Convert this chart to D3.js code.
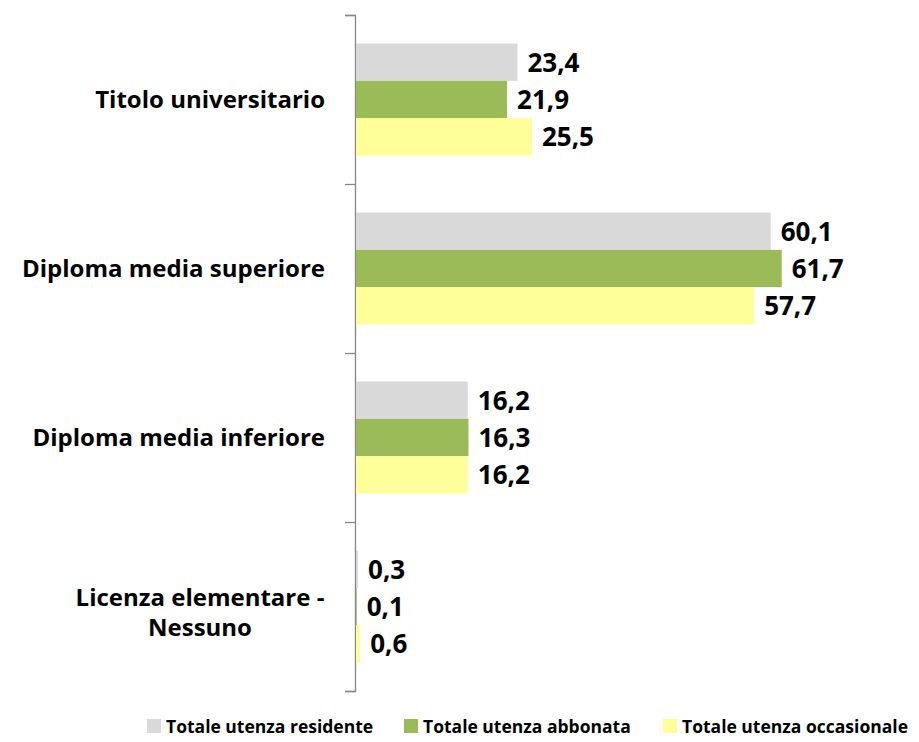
<!DOCTYPE html>
<html>
<head>
<meta charset="utf-8">
<script src="https://cdn.jsdelivr.net/npm/d3@7"></script>
<style>
  body { margin: 0; background: #fff; }
  text { font-family: "Open Sans", sans-serif; font-weight: 700; fill: #000; }
</style>
</head>
<body>
<div id="chart"></div>
<script>
var width = 919,
    height = 742;

// data
var categories = ["Titolo universitario", "Diploma media superiore", "Diploma media inferiore", "Licenza elementare - Nessuno"];
var series = ["Totale utenza residente", "Totale utenza abbonata", "Totale utenza occasionale"];
var residente = [23.4, 60.1, 16.2, 0.3];
var abbonata = [21.9, 61.7, 16.3, 0.1];
var occasionale = [25.5, 57.7, 16.2, 0.6];
var colors = ["#d9d9d9", "#9bbb59", "#ffff99"];

var values = [residente, abbonata, occasionale];

var rows = categories.map(function(c, i) {
  return { name: c, vals: series.map(function(s, j) { return { key: s, value: values[j][i] }; }) };
});

var it = d3.formatLocale({ decimal: ",", thousands: ".", grouping: [3], currency: ["", "€"] });
var fmt = it.format(".1f");

var svg = d3.select("#chart")
  .append("svg")
  .attr("width", width)
  .attr("height", height);

var x = d3.scaleLinear().domain([0, 80]).range([356, 908]);

var y0 = d3.scaleBand().domain(categories).range([15, 691]);

var y1 = d3.scaleBand().domain(series).range([0, y0.bandwidth()]).paddingOuter(0.765);

var color = d3.scaleOrdinal().domain(series).range(colors);

// axis with ticks on the band boundaries
var tickScale = d3.scaleLinear().domain([0, categories.length]).range([15, 691]);
var axis = svg.append("g")
  .attr("transform", "translate(355,0)")
  .call(d3.axisLeft(tickScale).ticks(categories.length).tickFormat("").tickSizeOuter(0).tickSize(10));
axis.selectAll("path, line").attr("stroke", "#868686").attr("stroke-width", 1.3);

var groups = svg.selectAll(".cat")
  .data(rows)
  .enter().append("g")
  .attr("class", "cat")
  .attr("transform", function(d) { return "translate(0," + y0(d.name) + ")"; });

groups.selectAll("rect")
  .data(function(d) { return d.vals; })
  .enter().append("rect")
  .attr("x", x(0))
  .attr("y", function(d) { return y1(d.key); })
  .attr("width", function(d) { return x(d.value) - x(0); })
  .attr("height", y1.bandwidth())
  .attr("fill", function(d) { return color(d.key); });

groups.selectAll(".val")
  .data(function(d) { return d.vals; })
  .enter().append("text")
  .attr("class", "val")
  .attr("x", function(d) { return x(d.value) + 10; })
  .attr("y", function(d) { return y1(d.key) + y1.bandwidth() / 2; })
  .attr("dy", "0.36em")
  .style("font-size", "26px")
  .text(function(d) { return fmt(d.value); });

// category labels, long one wrapped on two lines
groups.each(function(d) {
  var g = d3.select(this);
  var mid = y0.bandwidth() / 2;
  if (d.name.indexOf(" - ") > 0) {
    var parts = d.name.split(" - ");
    var t = g.append("text")
      .attr("text-anchor", "middle")
      .style("font-size", "24px");
    t.append("tspan").attr("x", 200).attr("y", mid - 1).text(parts[0] + " -");
    t.append("tspan").attr("x", 200).attr("y", mid + 29).text(parts[1]);
  } else {
    g.append("text")
      .attr("x", 325)
      .attr("y", mid)
      .attr("dy", "0.36em")
      .attr("text-anchor", "end")
      .style("font-size", "24px")
      .text(d.name);
  }
});

// legend
var legendX = [147, 404, 663];
var legend = svg.selectAll(".legend")
  .data(series)
  .enter().append("g")
  .attr("class", "legend")
  .attr("transform", function(d, i) { return "translate(" + legendX[i] + ",719)"; });

legend.append("rect")
  .attr("width", 14)
  .attr("height", 14)
  .attr("fill", function(d) { return color(d); });

legend.append("text")
  .attr("x", 19)
  .attr("y", 14)
  .style("font-size", "17.5px")
  .text(function(d) { return d; });
</script>
</body>
</html>
